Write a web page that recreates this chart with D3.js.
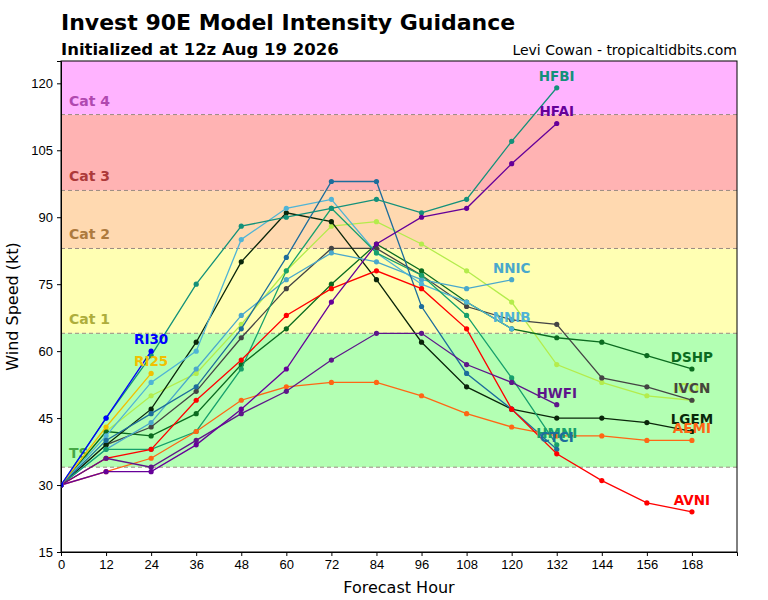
<!DOCTYPE html>
<html>
<head>
<meta charset="utf-8">
<script src="https://cdn.jsdelivr.net/npm/d3@7/dist/d3.min.js"></script>
<style>
	body { margin: 0; background: #fff; }
	svg { font-family: 'DejaVu Sans', sans-serif; }
	.axis text { font-size: 13px; fill: #000; }
	.axis path, .axis line { stroke: #000; }
</style>
</head>
<body>
<div id="chart"></div>
<script>
const hours = [0, 12, 24, 36, 48, 60, 72, 84, 96, 108, 120, 132, 144, 156, 168]
const yTicks = [15, 30, 45, 60, 75, 90, 105, 120]

// category bands (kt)
const bandNames = ['TS', 'Cat 1', 'Cat 2', 'Cat 3', 'Cat 4']
const bandLows = [34, 64, 83, 96, 113]
const bandHighs = [64, 83, 96, 113, 137]

// model intensities, one value per forecast hour
const icon = [30, 42, 50, 55, 66, 78, 88, 89, 84, 78, 71, 57, 53, 50, 49]
const ivcn = [30, 39, 43, 51, 63, 74, 83, 83, 77, 70, 67, 66, 54, 52, 49]
const dshp = [30, 42, 41, 46, 57, 65, 75, 84, 78, 71, 65, 63, 62, 59, 56]
const lgem = [30, 39, 47, 62, 80, 91, 89, 76, 62, 52, 47, 45, 45, 44, 42]
const nnic = [30, 38, 44, 56, 68, 76, 82, 80, 76, 74, 76]
const nnib = [30, 41, 53, 60, 85, 92, 94, 82, 75, 71, 65]
const hmni = [30, 38, 38, 42, 56, 78, 92, 82, 77, 68, 54, 39]
const ctci = [30, 40, 46, 52, 65, 81, 98, 98, 70, 55, 47, 38]
const hfbi = [30, 45, 59, 75, 88, 90, 92, 94, 91, 94, 107, 119]
const aemi = [30, 33, 36, 42, 49, 52, 53, 53, 50, 46, 43, 41, 41, 40, 40]
const avni = [30, 36, 38, 49, 58, 68, 74, 78, 74, 65, 47, 37, 31, 26, 24]
const hwfi = [30, 36, 34, 40, 46, 51, 58, 64, 64, 57, 53, 48]
const hfai = [30, 33, 33, 39, 47, 56, 71, 84, 90, 92, 102, 111]
const ri25 = [30, 43, 55]
const ri30 = [30, 45, 60]

const models = [
	['ICON', icon, '#b4ec4c'],
	['IVCN', ivcn, '#444444'],
	['DSHP', dshp, '#0b6b1f'],
	['LGEM', lgem, '#0a260a'],
	['NNIC', nnic, '#4aa8cc'],
	['NNIB', nnib, '#4fb4d6'],
	['HMNI', hmni, '#17a06c'],
	['CTCI', ctci, '#1d6d9c'],
	['HFBI', hfbi, '#13917a'],
	['AEMI', aemi, '#ff6614'],
	['AVNI', avni, '#ff0000'],
	['HWFI', hwfi, '#5e168a'],
	['HFAI', hfai, '#660099'],
	['RI25', ri25, '#f2c000'],
	['RI30', ri30, '#0000ff']
]

function drawchart() {
	const W = 768, H = 600
	const margin = {top: 61, right: 31, bottom: 48, left: 61}
	const width = W - margin.left - margin.right
	const height = H - margin.top - margin.bottom

	const svg = d3.select('#chart').append('svg').attr('width', W).attr('height', H)

	svg.append('text').attr('x', 61).attr('y', 30)
		.attr('font-size', '22px').attr('font-weight', 'bold')
		.text('Invest 90E Model Intensity Guidance')
	svg.append('text').attr('x', 61).attr('y', 55)
		.attr('font-size', '16.5px').attr('font-weight', 'bold')
		.text('Initialized at 12z Aug 19 2026')
	svg.append('text').attr('x', 737).attr('y', 55)
		.attr('font-size', '14px').attr('text-anchor', 'end')
		.text('Levi Cowan - tropicaltidbits.com')

	const chart = svg.append('g').attr('transform', `translate(${margin.left},${margin.top})`)

	const x = d3.scaleLinear().domain([0, 180]).range([0, width])
	const y = d3.scaleLinear().domain([15, 125]).range([height, 0])

	const bandFill = ['#b3ffb3', '#ffffb3', '#ffd9b0', '#ffb3b3', '#ffb3ff']
	const bandText = ['#45a845', '#adad3c', '#ad7a3e', '#ad3a3a', '#b048b0']

	chart.append('defs').append('clipPath').attr('id', 'clip')
		.append('rect').attr('width', width).attr('height', height)

	const bands = chart.append('g').attr('clip-path', 'url(#clip)')
	bandNames.forEach((name, i) => {
		bands.append('rect')
			.attr('x', 0).attr('width', width)
			.attr('y', y(bandHighs[i]))
			.attr('height', y(bandLows[i]) - y(bandHighs[i]))
			.attr('fill', bandFill[i])
	})
	bandLows.forEach(v => {
		bands.append('line')
			.attr('x1', 0).attr('x2', width)
			.attr('y1', y(v)).attr('y2', y(v))
			.attr('stroke', '#9a8a80').attr('stroke-width', 1)
			.attr('stroke-dasharray', '4,3')
	})
	bandNames.forEach((name, i) => {
		chart.append('text')
			.attr('x', 8).attr('y', y(bandLows[i]) - 9)
			.attr('font-size', '14px').attr('font-weight', 'bold')
			.attr('fill', bandText[i])
			.text(name)
	})

	chart.append('g')
		.attr('class', 'axis')
		.attr('transform', `translate(0,${height})`)
		.call(d3.axisBottom(x).tickValues(hours).tickSize(4).tickPadding(4))

	chart.append('g')
		.attr('class', 'axis')
		.call(d3.axisLeft(y).tickValues(yTicks).tickSize(4).tickPadding(4))

	const line = d3.line().x((d, i) => x(hours[i])).y(d => y(d))

	const plot = chart.append('g').attr('clip-path', 'url(#clip)')
	models.forEach(([name, vals, color]) => {
		plot.append('path')
			.attr('d', line(vals))
			.attr('fill', 'none')
			.attr('stroke', color)
			.attr('stroke-width', 1.3)
		plot.selectAll(null).data(vals).enter().append('circle')
			.attr('cx', (d, i) => x(hours[i]))
			.attr('cy', d => y(d))
			.attr('r', 2.6)
			.attr('fill', color)
	})

	models.forEach(([name, vals, color]) => {
		const last = vals.length - 1
		chart.append('text')
			.attr('x', x(hours[last])).attr('y', y(vals[last]) - 7)
			.attr('text-anchor', 'middle')
			.attr('font-size', '13.5px').attr('font-weight', 'bold')
			.attr('fill', color)
			.text(name)
	})

	chart.append('rect')
		.attr('width', width).attr('height', height)
		.attr('fill', 'none').attr('stroke', '#000')

	svg.append('text')
		.attr('x', margin.left + width / 2).attr('y', 593)
		.attr('text-anchor', 'middle').attr('font-size', '16px')
		.text('Forecast Hour')
	svg.append('text')
		.attr('transform', `translate(18,${margin.top + height / 2}) rotate(-90)`)
		.attr('text-anchor', 'middle').attr('font-size', '16px')
		.text('Wind Speed (kt)')
}

drawchart()
</script>
</body>
</html>
